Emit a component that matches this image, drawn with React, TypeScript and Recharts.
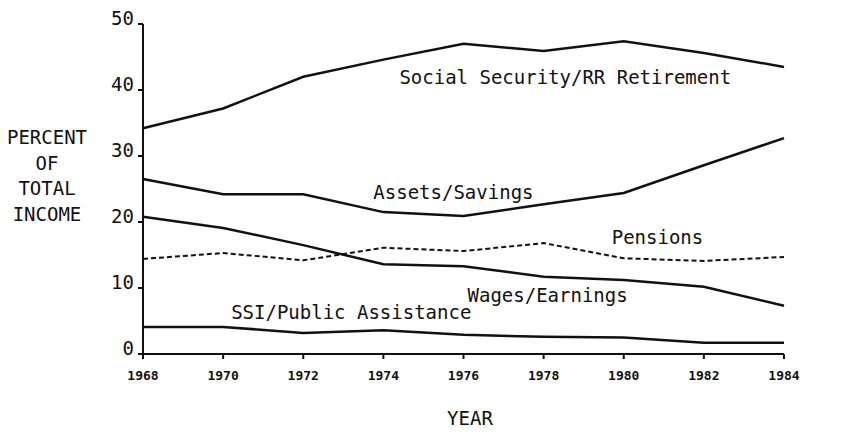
import { LineChart, Line, XAxis, YAxis, ReferenceDot, Label } from "recharts"

// Sources of income, aged units, 1968-1984 (percent of total income)
const years = [1968, 1970, 1972, 1974, 1976, 1978, 1980, 1982, 1984]
const socialSecurity = [34.2, 37.2, 42.0, 44.6, 47.0, 45.9, 47.4, 45.6, 43.5]
const assetsSavings = [26.5, 24.2, 24.2, 21.5, 20.9, 22.7, 24.4, 28.6, 32.7]
const pensions = [14.4, 15.3, 14.2, 16.1, 15.6, 16.8, 14.5, 14.1, 14.7]
const wagesEarnings = [20.8, 19.1, 16.5, 13.6, 13.3, 11.7, 11.2, 10.2, 7.3]
const ssiPublicAssistance = [4.1, 4.1, 3.2, 3.6, 2.9, 2.6, 2.5, 1.7, 1.7]

const yTicks = [0, 10, 20, 30, 40, 50]
const yLabelLines = ["PERCENT", "OF", "TOTAL", "INCOME"]

// series labels, placed in data coordinates (year, percent)
const seriesLabels = [
  { text: "Social Security/RR Retirement", year: 1974.4, value: 42.0 },
  { text: "Assets/Savings", year: 1973.75, value: 24.5 },
  { text: "Pensions", year: 1979.7, value: 17.7 },
  { text: "Wages/Earnings", year: 1976.1, value: 8.9 },
  { text: "SSI/Public Assistance", year: 1970.2, value: 6.4 },
]

const data = years.map((year, i) => ({
  year,
  socialSecurity: socialSecurity[i],
  assetsSavings: assetsSavings[i],
  pensions: pensions[i],
  wagesEarnings: wagesEarnings[i],
  ssi: ssiPublicAssistance[i],
}))

const MONO = "'DejaVu Sans Mono', 'Liberation Mono', monospace"
const ink = "#111"

const XTick = ({ x, y, payload }: any) => (
  <text x={x} y={y + 14} textAnchor="middle" dominantBaseline="central" fontFamily={MONO} fontWeight="bold" fontSize={13} fill={ink}>
    {payload.value}
  </text>
)

const YTick = ({ x, y, payload }: any) => (
  <text x={x} y={y - 6} textAnchor="end" dominantBaseline="central" fontFamily={MONO} fontSize={19} fill={ink}>
    {payload.value}
  </text>
)

const YTitle = () => (
  <g>
    {yLabelLines.map((line, i) => (
      <text key={line} x={47} y={137 + i * 25.6} textAnchor="middle" dominantBaseline="central" fontFamily={MONO} fontSize={19} fill={ink}>
        {line}
      </text>
    ))}
  </g>
)

const seriesLabel = (text: string) => (props: any) => {
  const vb = props.viewBox || {}
  const cx = vb.cx ?? vb.x + (vb.width || 0) / 2
  const cy = vb.cy ?? vb.y + (vb.height || 0) / 2
  return (
    <text x={cx} y={cy} textAnchor="start" dominantBaseline="central" fontFamily={MONO} fontSize={19} fill={ink}>
      {text}
    </text>
  )
}

export default function App() {
  const lineProps = { type: "linear" as const, stroke: ink, dot: false, isAnimationActive: false }
  return (
    <div style={{ position: "absolute", left: 0, top: 0, width: 854, height: 434, background: "#fff" }}>
      <LineChart width={854} height={434} data={data} margin={{ top: 24, right: 70, bottom: 0, left: 0 }}>
        <XAxis
          dataKey="year"
          type="number"
          domain={[1968, 1984]}
          ticks={years}
          height={80}
          tickSize={5}
          tickMargin={2}
          tick={<XTick />}
          axisLine={{ stroke: ink, strokeWidth: 2 }}
          tickLine={{ stroke: ink, strokeWidth: 2 }}
        >
          <Label
            content={() => (
              <text x={470} y={418} textAnchor="middle" dominantBaseline="central" fontFamily={MONO} fontSize={19} fill={ink}>
                YEAR
              </text>
            )}
          />
        </XAxis>
        <YAxis
          type="number"
          domain={[0, 50]}
          ticks={yTicks}
          width={143}
          tickSize={5}
          tickMargin={4}
          tick={<YTick />}
          axisLine={{ stroke: ink, strokeWidth: 2 }}
          tickLine={{ stroke: ink, strokeWidth: 2 }}
        >
          <Label content={<YTitle />} />
        </YAxis>
        <Line dataKey="socialSecurity" strokeWidth={2.5} {...lineProps} />
        <Line dataKey="assetsSavings" strokeWidth={2.5} {...lineProps} />
        <Line dataKey="pensions" strokeWidth={2} strokeDasharray="5 3" {...lineProps} />
        <Line dataKey="wagesEarnings" strokeWidth={2.5} {...lineProps} />
        <Line dataKey="ssi" strokeWidth={2.5} {...lineProps} />
        {seriesLabels.map((l) => (
          <ReferenceDot key={l.text} x={l.year} y={l.value} r={0} stroke="none" fill="none" label={seriesLabel(l.text)} />
        ))}
      </LineChart>
    </div>
  )
}
